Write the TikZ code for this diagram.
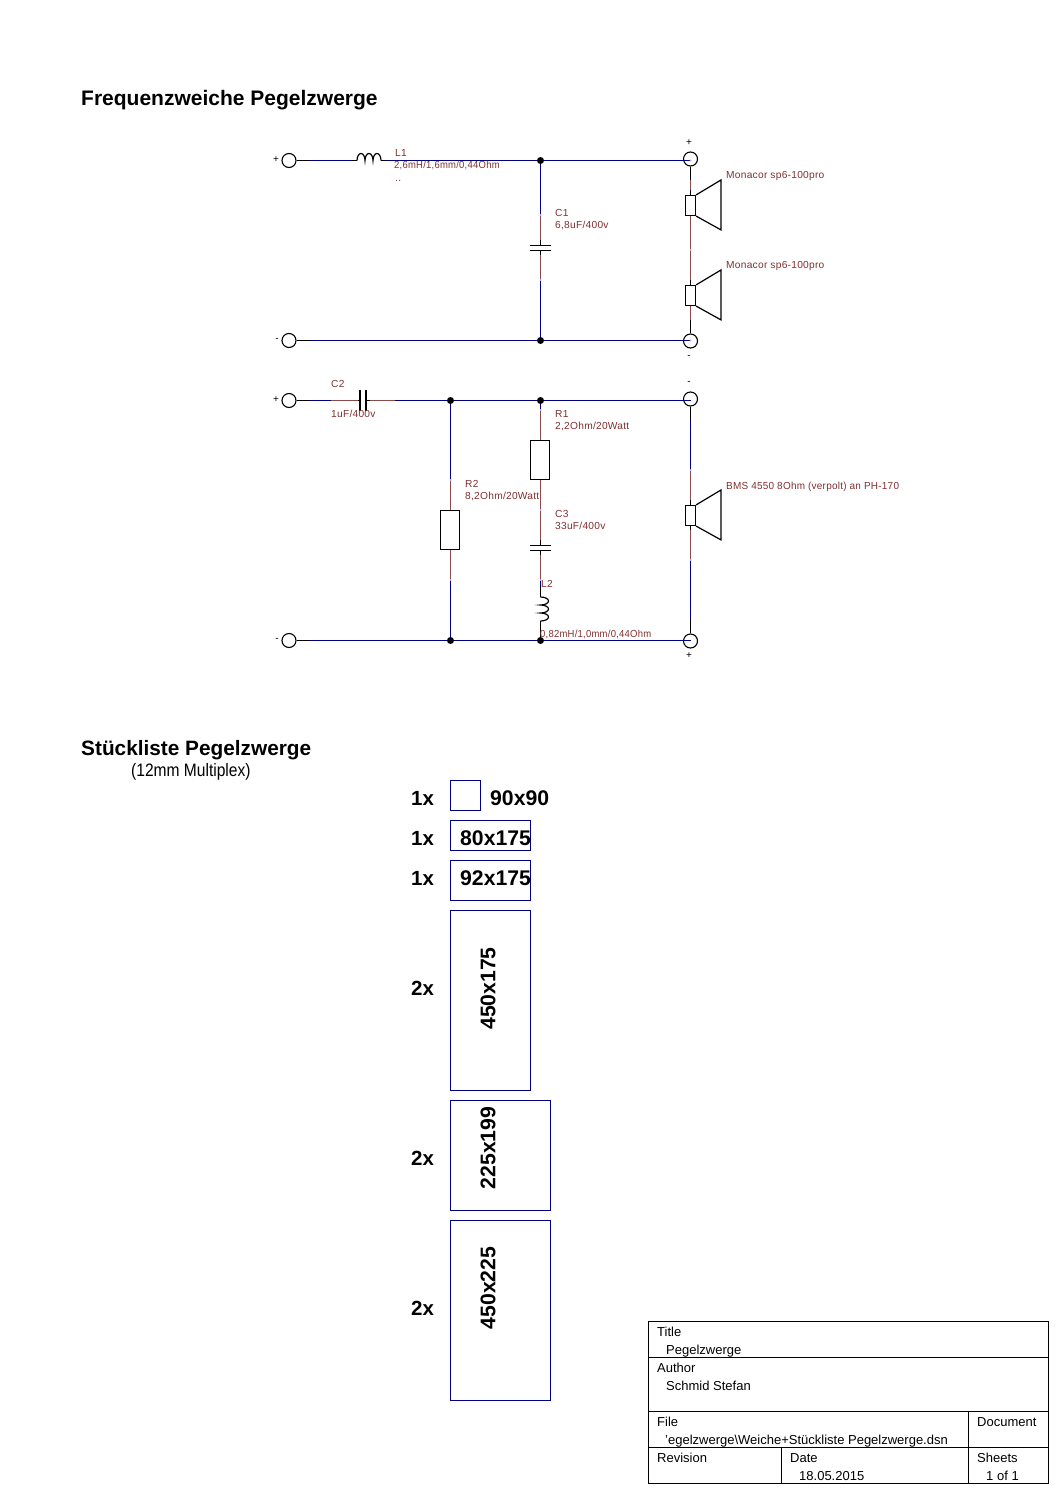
\documentclass[tikz,border=0pt]{standalone}
\usepackage{fontspec}
\setmainfont{Liberation Sans}
\newfontfamily\labfont[LetterSpace=2.5]{Liberation Sans}
\definecolor{wnavy}{HTML}{000080}
\definecolor{wbrown}{HTML}{8A4A4A}
\definecolor{tbrown}{HTML}{803030}
\definecolor{pindot}{HTML}{B4B4D8}
\tikzset{
  x=1pt,y=-1pt,
  wn/.style={draw=wnavy,line width=1.2pt},
  wb/.style={draw=wbrown,line width=1.2pt},
  wk/.style={draw=black,line width=1.2pt,line join=miter},
  term/.style={circle,draw=black,line width=1.1pt,minimum size=14pt,inner sep=0pt},
  jun/.style={circle,fill=black,minimum size=7pt,inner sep=0pt},
  res/.style={rectangle,draw=black,line width=1.1pt,inner sep=0pt,minimum width=19pt,minimum height=39pt},
  spk/.style={rectangle,draw=black,line width=1.1pt,inner sep=0pt,minimum width=10pt,minimum height=20pt},
  lab/.style={anchor=base west,inner sep=0pt,text=tbrown,font=\fontsize{10.2}{11}\labfont},
  pol/.style={inner sep=0pt,text=black,font=\fontsize{10}{10}\selectfont},
  head/.style={anchor=base west,inner sep=0pt,font=\fontsize{21}{21}\bfseries},
  cnt/.style={anchor=base west,inner sep=0pt,font=\fontsize{20.5}{21}\bfseries},
  dim/.style={inner sep=0pt,font=\fontsize{21.2}{21}\bfseries},
  part/.style={rectangle,draw=wnavy,line width=1.2pt,inner sep=0pt},
  tb/.style={anchor=base west,inner sep=0pt,font=\fontsize{13}{14}\selectfont},
  frame/.style={draw=black,line width=1.1pt},
  dotp/.style={circle,fill=pindot,minimum size=2pt,inner sep=0pt},
}
\newcommand{\pdot}[2]{\node[dotp] (#1) at #2 {};}
\begin{document}
\begin{tikzpicture}
\useasboundingbox (0,0) rectangle (1060,1495);
% ---- terminals
\node[term] (tA) at (289,160.5) {};
\node[term] (tB) at (289,340.5) {};
\node[term] (tC) at (289,400.5) {};
\node[term] (tD) at (289,640.5) {};
\node[term] (oA) at (690.5,159) {};
\node[term] (oB) at (690.5,341) {};
\node[term] (oC) at (690.5,399) {};
\node[term] (oD) at (690.5,641) {};
\coordinate (oAw) at (690.5,160.5);
\coordinate (oBw) at (690.5,340.5);
\coordinate (oCw) at (690.5,400.5);
\coordinate (oDw) at (690.5,640.5);
\node[pol] (pA) at (276,160) {+};
\node[pol] (pB) at (277,340) {-};
\node[pol] (pC) at (276,400) {+};
\node[pol] (pD) at (277,640) {-};
\node[pol] (qA) at (689,143) {+};
\node[pol] (qB) at (689,357) {-};
\node[pol] (qC) at (689,383) {-};
\node[pol] (qD) at (689,656) {+};
% ---- junctions
\node[jun] (j1) at (540.5,160.5) {};
\node[jun] (j2) at (540.5,340.5) {};
\node[jun] (j3) at (450.5,400.5) {};
\node[jun] (j4) at (540.5,400.5) {};
\node[jun] (j5) at (450.5,640.5) {};
\node[jun] (j6) at (540.5,640.5) {};
% ---- top line with L1
\coordinate (a1) at (310,160.5);\coordinate (a2) at (352,160.5);
\coordinate (a3) at (357,160.5);\coordinate (a4) at (381,160.5);\coordinate (a5) at (385,160.5);
\draw[wk] (tA.east) -- (a1);
\draw[wn] (a1) -- (a2);
\draw[wk] (a2) -- (a3);
\draw[wk] (a3) arc[start angle=180,end angle=360,x radius=4,y radius=7]
               arc[start angle=180,end angle=360,x radius=4,y radius=7]
               arc[start angle=180,end angle=360,x radius=4,y radius=7];
\draw[wk] (a4) -- (a5);
\draw[wn] (a5) -- (j1);
\draw[wn] (j1) -- (oAw);
% ---- bottom line
\coordinate (b1) at (310,340.5);
\draw[wk] (tB.east) -- (b1);
\draw[wn] (b1) -- (j2);
\draw[wn] (j2) -- (oBw);
% ---- C1
\coordinate (c1) at (540.5,215);\coordinate (c2) at (540.5,240);\coordinate (c3) at (540.5,245.5);
\coordinate (c4) at (540.5,250.5);\coordinate (c5) at (540.5,255);\coordinate (c6) at (540.5,280);
\draw[wn] (j1) -- (c1);
\draw[wb] (c1) -- (c2);
\draw[wk] (c2) -- (c3);
\draw[wk] (530,245.5) -- (551,245.5);
\draw[wk] (530,250.5) -- (551,250.5);
\draw[wk] (c4) -- (c5);
\draw[wb] (c5) -- (c6);
\draw[wn] (c6) -- (j2);
\pdot{dc1}{(c1)}\pdot{dc6}{(c6)}
% ---- speakers top
\node[spk] (s1) at (690.5,205.5) {};
\node[spk] (s2) at (690.5,295.5) {};
\coordinate (s1a) at (690.5,180);\coordinate (s1b) at (690.5,190);
\coordinate (mid) at (690.5,250);
\coordinate (s2a) at (690.5,280);\coordinate (s2b) at (690.5,320);
\draw[wk] (oA.south) -- (s1a);
\draw[wb] (s1a) -- (s1b);
\draw[wk] (s1b) -- (s1.north);
\draw[wb] (s1.south) -- (mid);
\draw[wb] (mid) -- (s2a);
\draw[wk] (s2a) -- (s2.north);
\draw[wb] (s2.south) -- (s2b);
\draw[wk] (s2b) -- (oB.north);
\draw[wk] (s1.north east) -- ++(25,-15) -- ++(0,50) -- (s1.south east);
\draw[wk] (s2.north east) -- ++(25,-15) -- ++(0,50) -- (s2.south east);
\pdot{dmid}{(mid)}\pdot{doa}{(oAw)}\pdot{dob}{(oBw)}
% ---- second line with C2
\coordinate (d1) at (310,400.5);\coordinate (d2) at (331,400.5);\coordinate (d3) at (360,400.5);
\coordinate (d4) at (366,400.5);\coordinate (d5) at (370,400.5);\coordinate (d6) at (395,400.5);
\coordinate (d2b) at (358,400.5);
\draw[wk] (tC.east) -- (d1);
\draw[wn] (d1) -- (d2);
\draw[wb] (d2) -- (d2b);
\draw[wk] (d2b) -- (d3);
\draw[wk] (360,390) -- (360,411);
\draw[wk] (366,390) -- (366,411);
\draw[wk] (d4) -- (d5);
\draw[wb] (d5) -- (d6);
\draw[wn] (d6) -- (j3);
\draw[wn] (j3) -- (j4);
\draw[wn] (j4) -- (oCw);
% ---- lower line
\coordinate (e1) at (310,640.5);
\draw[wk] (tD.east) -- (e1);
\draw[wn] (e1) -- (j5);
\draw[wn] (j5) -- (j6);
\draw[wn] (j6) -- (oDw);
% ---- R2
\node[res] (R2) at (450,530) {};
\coordinate (f1) at (450.5,480);\coordinate (f2) at (450.5,580);
\draw[wn] (j3) -- (f1);
\draw[wb] (f1) -- (450.5,510);
\draw[wb] (450.5,550) -- (f2);
\draw[wn] (f2) -- (j5);
\pdot{df1}{(f1)}\pdot{df2}{(f2)}
% ---- R1, C3, L2
\node[res] (R1) at (540,460) {};
\coordinate (g1) at (540.5,410);\coordinate (g2) at (540.5,510);\coordinate (g3) at (540.5,540);
\coordinate (g4) at (540.5,555);\coordinate (g5) at (540.5,580);\coordinate (g6) at (540.5,585);
\coordinate (g7) at (540.5,597);\coordinate (g8) at (540.5,621);
\draw[wn] (j4) -- (g1);
\draw[wb] (g1) -- (540.5,440);
\draw[wb] (540.5,480) -- (g2);
\draw[wb] (g2) -- (g3);
\draw[wk] (g3) -- (540.5,545.5);
\draw[wk] (530,545.5) -- (551,545.5);
\draw[wk] (530,550.5) -- (551,550.5);
\draw[wk] (540.5,550.5) -- (g4);
\draw[wb] (g4) -- (g5);
\draw[wn] (g5) -- (g6);
\draw[wk] (g6) -- (g7);
\draw[wk] (g7) arc[start angle=-90,end angle=90,x radius=8,y radius=4]
               arc[start angle=-90,end angle=90,x radius=8,y radius=4]
               arc[start angle=-90,end angle=90,x radius=8,y radius=4];
\draw[wk] (g8) -- (j6);
\pdot{dg1}{(g1)}\pdot{dg2}{(g2)}\pdot{dg5}{(g5)}
% ---- lower speaker
\node[spk] (s3) at (690.5,515.5) {};
\coordinate (h1) at (690.5,420);\coordinate (h2) at (690.5,470);\coordinate (h3) at (690.5,500);
\coordinate (h4) at (690.5,530);\coordinate (h5) at (690.5,560);\coordinate (h6) at (690.5,620);
\draw[wk] (oC.south) -- (h1);
\draw[wn] (h1) -- (h2);
\draw[wb] (h2) -- (h3);
\draw[wk] (h3) -- (s3.north);
\draw[wk] (s3.south) -- (h4);
\draw[wb] (h4) -- (h5);
\draw[wn] (h5) -- (h6);
\draw[wk] (h6) -- (oD.north);
\draw[wk] (s3.north east) -- ++(25,-15) -- ++(0,50) -- (s3.south east);
\pdot{dh2}{(h2)}\pdot{dh5}{(h5)}
% ---- schematic labels
\node[lab] (lL1) at (395,157) {L1};
\node[lab,xscale=0.93] (lL1v) at (394,169) {2,6mH/1,6mm/0,44Ohm};
\node[lab] (lL1d) at (395,182) {..};
\node[lab] (lC1) at (555,217) {C1};
\node[lab] (lC1v) at (555,229) {6,8uF/400v};
\node[lab] (lS1) at (726,179) {Monacor sp6-100pro};
\node[lab] (lS2) at (726,269) {Monacor sp6-100pro};
\node[lab] (lC2) at (331,387) {C2};
\node[lab] (lC2v) at (331,417) {1uF/400v};
\node[lab] (lR2) at (465,487) {R2};
\node[lab] (lR2v) at (465,499) {8,2Ohm/20Watt};
\node[lab] (lR1) at (555,417) {R1};
\node[lab] (lR1v) at (555,429) {2,2Ohm/20Watt};
\node[lab] (lC3) at (555,517) {C3};
\node[lab] (lC3v) at (555,529) {33uF/400v};
\node[lab] (lL2) at (541,587) {L2};
\node[lab,xscale=0.93] (lL2v) at (540,637) {0,82mH/1,0mm/0,44Ohm};
\node[lab,xscale=0.977] (lS3) at (726,489) {BMS 4550 8Ohm (verpolt) an PH-170};
% ---- headings
\node[head] (h1t) at (81,105.5) {Frequenzweiche Pegelzwerge};
\node[head,font=\fontsize{20.8}{21}\bfseries] (h2t) at (81,755) {Stückliste Pegelzwerge};
\node[anchor=base west,inner sep=0pt,font=\fontsize{18}{18}\selectfont,xscale=0.865] (h3t) at (131,776) {(12mm Multiplex)};
% ---- parts list
\node[part,minimum width=30pt,minimum height=30pt] (p1) at (465.5,795.5) {};
\node[part,minimum width=80pt,minimum height=30pt] (p2) at (490.5,835.5) {};
\node[part,minimum width=80pt,minimum height=40pt] (p3) at (490.5,880.5) {};
\node[part,minimum width=80pt,minimum height=180pt] (p4) at (490.5,1000.5) {};
\node[part,minimum width=100pt,minimum height=110pt] (p5) at (500.5,1155.5) {};
\node[part,minimum width=100pt,minimum height=180pt] (p6) at (500.5,1310.5) {};
\node[cnt] (n1) at (411,805) {1x};
\node[cnt] (n2) at (411,845) {1x};
\node[cnt] (n3) at (411,885) {1x};
\node[cnt] (n4) at (411,995) {2x};
\node[cnt] (n5) at (411,1165) {2x};
\node[cnt] (n6) at (411,1315) {2x};
\node[cnt,font=\fontsize{21.2}{21}\bfseries] (d1t) at (490,805) {90x90};
\node[cnt,font=\fontsize{21.2}{21}\bfseries] (d2t) at (460,845) {80x175};
\node[cnt,font=\fontsize{21.2}{21}\bfseries] (d3t) at (460,885) {92x175};
\node[dim,rotate=90] (d4t) at (488,988.5) {450x175};
\node[dim,rotate=90] (d5t) at (488,1148) {225x199};
\node[dim,rotate=90] (d6t) at (488,1288) {450x225};
% ---- title block
\draw[frame] (648.5,1321.5) rectangle (1048.5,1483.5);
\draw[frame] (648.5,1357.5) -- (1048.5,1357.5);
\draw[frame] (648.5,1411.5) -- (1048.5,1411.5);
\draw[frame] (648.5,1447.5) -- (1048.5,1447.5);
\draw[frame] (968.5,1411.5) -- (968.5,1483.5);
\draw[frame] (781.5,1447.5) -- (781.5,1483.5);
\node[tb] (b1t) at (657,1336) {Title};
\node[tb] (b2t) at (666,1354) {Pegelzwerge};
\node[tb] (b3t) at (657,1372) {Author};
\node[tb] (b4t) at (666,1390) {Schmid Stefan};
\node[tb] (b5t) at (657,1426) {File};
\node[tb] (b6t) at (665,1444) {'egelzwerge\textbackslash Weiche+Stückliste Pegelzwerge.dsn};
\node[tb] (b7t) at (977,1426) {Document};
\node[tb] (b8t) at (657,1462) {Revision};
\node[tb] (b9t) at (790,1462) {Date};
\node[tb] (b10t) at (799,1480) {18.05.2015};
\node[tb] (b11t) at (977,1462) {Sheets};
\node[tb] (b12t) at (986,1480) {1 of 1};
\end{tikzpicture}
\end{document}
